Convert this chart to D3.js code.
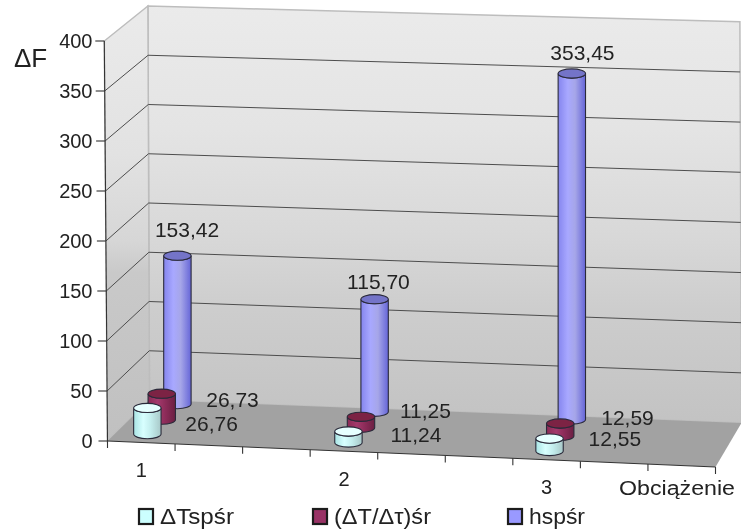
<!DOCTYPE html>
<html><head><meta charset="utf-8">
<script src="https://cdn.jsdelivr.net/npm/d3@7"></script>
<style>html,body{margin:0;padding:0;background:#fff}svg{display:block;filter:blur(.45px)}text{font-family:"Liberation Sans",Arial,sans-serif;fill:#222}</style>
</head><body><script>
const categories = ["1","2","3"];
const seriesNames = ["ΔTspśr","(ΔT/Δτ)śr","hspśr"];
const deltaT = [26.76,11.24,12.55];
const deltaRatio = [26.73,11.25,12.59];
const hsp = [153.42,115.70,353.45];
const valueLabels = [["26,76","11,24","12,55"],["26,73","11,25","12,59"],["153,42","115,70","353,45"]];
const yTicks = [0,50,100,150,200,250,300,350,400];
const seriesValues = [deltaT,deltaRatio,hsp];

const W=741,H=529;
const svg=d3.select("body").append("svg").attr("width",W).attr("height",H).attr("viewBox",`0 0 ${W} ${H}`);
const defs=svg.append("defs");

// 3-D projection built from linear scales
const sx=d3.scaleLinear().domain([0,1]).range([107.5,715.5]);
const depthRun=d3.scaleLinear().domain([0,1]).range([42,26]);
const depthRise=d3.scaleLinear().domain([0,1]).range([41,44]);
const sRise=d3.scaleLinear().domain([0,1]).range([441,467]);
const lift=(u,d,v)=>v*(1-.015*d+.018*u);
const B=(u,d,v)=>[sx(u)+depthRun(u)*d, sRise(u)-depthRise(u)*d-.98*lift(u,d,v)];
const P=(u,d,v)=>[sx(u)+depthRun(u)*d-v*.008*(1-.5*d), sRise(u)-depthRise(u)*d-lift(u,d,v)];
const catU=d3.scaleLinear().domain([0,2]).range([.052,.717]);
const depth=d3.scaleOrdinal().domain([0,1,2]).range([.2,.55,.93]);
const poly=pts=>"M"+pts.map(p=>p.join(",")).join("L")+"Z";

// wall shading
const wg=defs.append("linearGradient").attr("id","wall").attr("gradientUnits","userSpaceOnUse").attr("x1",0).attr("x2",0).attr("y1",0).attr("y2",430);
[[0,"#ebebeb"],[.3,"#e4e4e4"],[.55,"#d8d8d8"],[.72,"#cdcdcd"],[1,"#c2c2c2"]].forEach(([o,c])=>wg.append("stop").attr("offset",o).attr("stop-color",c));
const lg=defs.append("linearGradient").attr("id","lwall").attr("gradientUnits","userSpaceOnUse").attr("x1",0).attr("x2",0).attr("y1",0).attr("y2",440);
[[0,"#ebebeb"],[.35,"#e2e2e2"],[.55,"#d6d6d6"],[.62,"#c9c9c9"],[1,"#c0c0c0"]].forEach(([o,c])=>lg.append("stop").attr("offset",o).attr("stop-color",c));

svg.append("path").attr("d",poly([P(0,1,0),P(1,1,0),P(1,1,400),P(0,1,400)])).attr("fill","url(#wall)").attr("stroke","#bdbdbd").attr("stroke-width",1.5);
svg.append("path").attr("d",poly([P(0,0,0),P(0,1,0),P(0,1,400),P(0,0,400)])).attr("fill","url(#lwall)").attr("stroke","#bdbdbd").attr("stroke-width",1.5);
svg.append("path").attr("d",poly([P(0,0,0),P(1,0,0),P(1,1,0),P(0,1,0)])).attr("fill","#a2a2a2");

// gridlines
const grid=svg.append("g").attr("fill","none").attr("stroke","#4d4d4d").attr("stroke-width",1);
yTicks.filter(v=>v>0&&v<400).forEach(v=>{
  grid.append("path").attr("d",d3.line()([P(0,0,v),P(0,1,v),P(1,1,v)]));
});

// axes
const axis=svg.append("g").attr("stroke","#333").attr("fill","none").attr("stroke-width",1.1);
axis.append("path").attr("d",d3.line()([P(0,0,0),P(0,0,400)]));
axis.append("path").attr("d",d3.line()([P(0,0,0),P(1,0,0)]));
yTicks.forEach(v=>{
  const p=P(0,0,v);
  axis.append("line").attr("x1",p[0]-9).attr("x2",p[0]).attr("y1",p[1]).attr("y2",p[1]);
  svg.append("text").attr("x",92.5).attr("y",p[1]+7).attr("text-anchor","end").attr("font-size",20).text(v);
});
d3.range(10).forEach(i=>{
  const p=P(i/9,0,0);
  axis.append("line").attr("x1",p[0]).attr("x2",p[0]).attr("y1",p[1]).attr("y2",p[1]+7);
});
categories.forEach((c,i)=>{
  const p=P((i*3+.5)/9,0,0);
  svg.append("text").attr("x",p[0]).attr("y",p[1]+34.5).attr("text-anchor","middle").attr("font-size",20).text(c);
});
svg.append("text").attr("x",14).attr("y",67).attr("font-size",26).text("ΔF");
svg.append("text").attr("x",619).attr("y",495).attr("font-size",20).attr("textLength",116).attr("lengthAdjust","spacingAndGlyphs").text("Obciążenie");

// cylinders
const palette=[
 {stops:["#a9e4e4","#d8ffff","#c4eeee","#a8c8c8"],top:"#e6ffff",leg:"#ccffff"},
 {stops:["#8a2a55","#a33a6c","#8e2c5a","#6a1f42"],top:"#7c2344",leg:"#993366"},
 {stops:["#8585ee","#a8a8ff","#a6a6e8","#6565d8"],top:"#7474c8",leg:"#9999ff"}];
palette.forEach((p,i)=>{
  const g=defs.append("linearGradient").attr("id","cyl"+i);
  [0,.35,.62,1].forEach((o,k)=>g.append("stop").attr("offset",o).attr("stop-color",p.stops[k]));
});
const rx=13.7, r=4.6;
const bars=svg.append("g");
categories.forEach((c,ci)=>{
  [2,1,0].forEach(si=>{
    const v=seriesValues[si][ci];
    const [x,y0]=B(catU(ci),depth(si),0);
    const [,y1]=B(catU(ci),depth(si),v);
    const g=bars.append("g").attr("stroke","#2a2a3a").attr("stroke-width",1.1);
    g.append("path").attr("d",`M${x-rx},${y1}L${x-rx},${y0}A${rx},${r} 0 0 0 ${x+rx},${y0}L${x+rx},${y1}A${rx},${r} 0 0 1 ${x-rx},${y1}Z`).attr("fill",`url(#cyl${si})`);
    g.append("ellipse").attr("cx",x).attr("cy",y1).attr("rx",rx).attr("ry",r).attr("fill",palette[si].top);
  });
});

// value labels: placed relative to their bar tops
const labelPlacement=[
 [[38,23],[42,10],[39,7]],
 [[44.5,13],[39,1],[41,1]],
 [[-22.5,-19],[-27.5,-10],[-21.5,-13]]];
seriesValues.forEach((vals,si)=>vals.forEach((v,ci)=>{
  const [x,y]=B(catU(ci),depth(si),v);
  const [dx,dy]=labelPlacement[si][ci];
  svg.append("text").attr("x",x+dx).attr("y",y+dy).attr("font-size",21).text(valueLabels[si][ci]);
}));

// legend
const legendX=d3.scaleOrdinal().domain([0,1,2]).range([138,312,507]);
const legendText=d3.scaleOrdinal().domain([0,1,2]).range([74,97,56]);
seriesNames.forEach((n,i)=>{
  svg.append("rect").attr("x",legendX(i)+1).attr("y",509).attr("width",14).attr("height",15).attr("fill",palette[i].leg).attr("stroke","#1c1c1c").attr("stroke-width",2.2);
  svg.append("text").attr("x",legendX(i)+22).attr("y",524).attr("font-size",22).attr("textLength",legendText(i)).attr("lengthAdjust","spacingAndGlyphs").text(n);
});
</script></body></html>
